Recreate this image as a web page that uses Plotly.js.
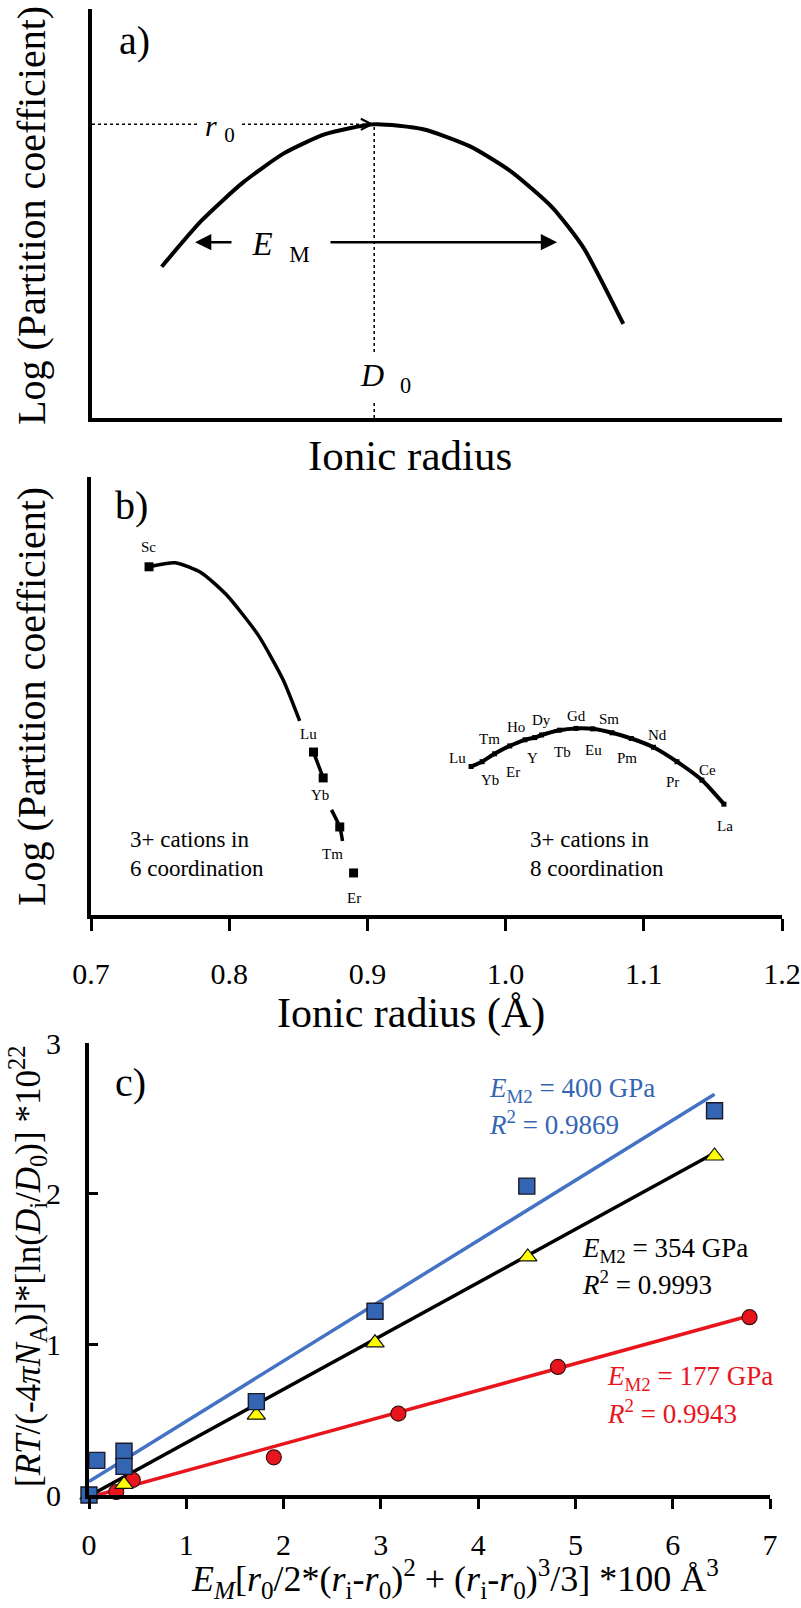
<!DOCTYPE html>
<html><head><meta charset="utf-8">
<script src="https://cdn.plot.ly/plotly-3.0.1.min.js"></script>
<style>html,body{margin:0;padding:0;background:#fff;}#chart{width:801px;height:1608px;}</style>
</head><body><div id="chart"></div>
<script>
// ---------- Panel a: schematic lattice-strain parabola (arbitrary units) ----------
const aCurveX = [1.01, 1.59, 2.19, 2.78, 3.38, 4.09, 4.80, 5.48, 6.07, 6.67, 7.12, 7.70];
const aCurveY = [3.70, 4.83, 5.76, 6.47, 6.94, 7.18, 7.06, 6.64, 6.03, 5.15, 4.17, 2.30];
const aR0 = 4.09;          // peak position (r0)
const aD0 = 7.18;          // peak height (D0)
const aEmX = [1.45, 6.74]; // E_M arrow ends
const aEmY = 4.30;

// ---------- Panel b: ionic radius (Å) vs log D ----------
const b6LineX = [0.742, 0.761, 0.780, 0.798, 0.821, 0.839, 0.851, null, 0.861, 0.868, null, 0.874, 0.880, 0.882];
const b6LineY = [7.95, 8.04, 7.81, 7.31, 6.39, 5.37, 4.43, null, 3.72, 3.13, null, 2.40, 2.01, 1.69];
const b6Names = ['Sc', 'Lu', 'Yb', 'Tm', 'Er'];
const b6X = [0.742, 0.861, 0.868, 0.880, 0.890];
const b6Y = [7.95, 3.72, 3.13, 2.01, 0.96];
const b6LabelDx = [-1, -5, -3, -7, 0];
const b6LabelDy = [20, 18, -17, -27, -25];

const b8Names = ['Lu','Yb','Tm','Er','Ho','Y','Dy','Tb','Gd','Eu','Sm','Pm','Nd','Pr','Ce','La'];
const b8X = [0.975, 0.983, 0.992, 1.003, 1.014, 1.021, 1.026, 1.039, 1.051, 1.063, 1.077, 1.091, 1.107, 1.124, 1.142, 1.158];
const b8Y = [3.39, 3.50, 3.68, 3.86, 4.00, 4.05, 4.11, 4.22, 4.26, 4.25, 4.16, 4.03, 3.83, 3.50, 3.08, 2.53];
const b8LabelDx = [-14, 8, -5, 3, -9, -2, 0, 3, 0, 1, -3, -4, 4, -4, 6, 1];
const b8LabelDy = [9, -18, 15, -26, 13, -20, 15, -22, 12, -21, 14, -20, 12, -20, 10, -22];

// ---------- Panel c ----------
const cBlueX = [0, 0.08, 0.36, 0.36, 1.72, 2.94, 4.50, 6.43];
const cBlueY = [0, 0.23, 0.29, 0.19, 0.62, 1.22, 2.05, 2.55];
const cYellowX = [0, 0.36, 1.72, 2.94, 4.51, 6.43];
const cYellowY = [0, 0.07, 0.53, 1.01, 1.58, 2.25];
const cRedX = [0.28, 0.45, 1.90, 3.18, 4.82, 6.79];
const cRedY = [0.02, 0.10, 0.25, 0.54, 0.85, 1.18];
const cBlueFitX = [0, 6.43],    cBlueFitY = [0.09, 2.66];
const cBlackFitX = [0.02, 6.43], cBlackFitY = [0.0, 2.27];
const cRedFitX = [0.09, 6.79],  cRedFitY = [0.0, 1.19];
const cStatE = ['400', '354', '177'];
const cStatR2 = ['0.9869', '0.9993', '0.9943'];

const W = 801, H = 1608;
const fx = p => p / W;
const fy = p => 1 - p / H;
const FONT = 'Liberation Serif';
const BLUE = '#3465B3', BLUE_LINE = '#4472C4', RED = '#E8151C', YEL = '#FFFF00';

const traces = [
  {x: aCurveX, y: aCurveY, xaxis: 'x', yaxis: 'y', mode: 'lines',
   line: {color: 'black', width: 4, shape: 'spline', smoothing: 0.6}},
  {x: b6LineX, y: b6LineY, xaxis: 'x2', yaxis: 'y2', mode: 'lines',
   line: {color: 'black', width: 3.5, shape: 'spline', smoothing: 0.6}},
  {x: b6X, y: b6Y, xaxis: 'x2', yaxis: 'y2', mode: 'markers',
   marker: {symbol: 'square', size: 9, color: 'black'}},
  {x: b8X, y: b8Y, xaxis: 'x2', yaxis: 'y2', mode: 'lines+markers',
   line: {color: 'black', width: 4, shape: 'spline', smoothing: 0.6},
   marker: {symbol: 'square', size: 5, color: 'black'}},
  {x: cRedFitX, y: cRedFitY, xaxis: 'x3', yaxis: 'y3', mode: 'lines', line: {color: RED, width: 3.5}},
  {x: cBlackFitX, y: cBlackFitY, xaxis: 'x3', yaxis: 'y3', mode: 'lines', line: {color: 'black', width: 3.5}},
  {x: cBlueFitX, y: cBlueFitY, xaxis: 'x3', yaxis: 'y3', mode: 'lines', line: {color: BLUE_LINE, width: 3.5}},
  {x: cRedX, y: cRedY, xaxis: 'x3', yaxis: 'y3', mode: 'markers', cliponaxis: false,
   marker: {symbol: 'circle', size: 15, color: RED, line: {color: '#3a1010', width: 1.2}}},
  {x: cYellowX, y: cYellowY, xaxis: 'x3', yaxis: 'y3', mode: 'markers', cliponaxis: false,
   marker: {symbol: 'triangle-up', size: 16, color: YEL, line: {color: '#111', width: 1.2}}},
  {x: cBlueX, y: cBlueY, xaxis: 'x3', yaxis: 'y3', mode: 'markers', cliponaxis: false,
   marker: {symbol: 'square', size: 16, color: BLUE, line: {color: '#1a1a2a', width: 1.4}}}
];

const noTickAxis = {showline: true, linewidth: 4, linecolor: 'black', showgrid: false, zeroline: false,
  ticks: '', showticklabels: false, fixedrange: true};

const annotations = [];
function pa(text, x, y, size, extra) {
  annotations.push(Object.assign({xref: 'paper', yref: 'paper', x: fx(x), y: fy(y), text: text,
    xanchor: 'center', yanchor: 'middle',
    showarrow: false, font: {family: FONT, size: size, color: 'black'}}, extra || {}));
}

// Panel a texts
pa('a)', 134, 40, 40);
pa('Log (Partition coefficient)', 32, 216, 40, {textangle: -90});
pa('Ionic radius', 410, 456, 43);
annotations.push({xref: 'x', yref: 'y', x: 1.86, y: 7.10, showarrow: false, bgcolor: 'white', borderpad: 6,
  xanchor: 'center', yanchor: 'middle',
  text: '<i>r</i>\u00a0<sub>0</sub>', font: {family: FONT, size: 30, color: 'black'}});
annotations.push({xref: 'x', yref: 'y', x: aEmX[1], y: aEmY, ax: aEmX[0], ay: aEmY, axref: 'x', ayref: 'y',
  showarrow: true, arrowside: 'end+start', arrowhead: 2, startarrowhead: 2, arrowsize: 1.3, startarrowsize: 1.3,
  arrowwidth: 2.5, arrowcolor: 'black'});
annotations.push({xref: 'x', yref: 'y', x: 2.74, y: 4.19, showarrow: false, bgcolor: 'white', borderpad: 4,
  xanchor: 'center', yanchor: 'middle',
  text: '\u00a0\u00a0<i>E</i>\u00a0\u00a0<sub>M</sub>\u00a0\u00a0', font: {family: FONT, size: 33, color: 'black'}});
annotations.push({xref: 'x', yref: 'y', x: 4.25, y: 0.98, showarrow: false, bgcolor: 'white', borderpad: 3,
  xanchor: 'center', yanchor: 'middle',
  text: '<i>D</i>\u00a0\u00a0<sub>0</sub>', font: {family: FONT, size: 32, color: 'black'}});
annotations.push({xref: 'x', yref: 'y', x: aR0, y: aD0, ax: -12, ay: 0, showarrow: true, arrowhead: 5,
  arrowsize: 1.8, arrowwidth: 1.2, arrowcolor: 'black'});
annotations.push({xref: 'x', yref: 'y', x: aR0, y: aD0, ax: 0, ay: 12, showarrow: true, arrowhead: 5,
  arrowsize: 1.8, arrowwidth: 1.2, arrowcolor: 'black'});

// Panel b texts
pa('b)', 131, 505, 40);
pa('Log (Partition coefficient)', 32, 697, 40, {textangle: -90});
pa('Ionic radius (Å)', 411, 1013, 42);
b6Names.forEach((n, i) => annotations.push({xref: 'x2', yref: 'y2', x: b6X[i], y: b6Y[i], text: n,
  xanchor: 'center', yanchor: 'middle',
  xshift: b6LabelDx[i], yshift: b6LabelDy[i], showarrow: false, font: {family: FONT, size: 15, color: 'black'}}));
b8Names.forEach((n, i) => annotations.push({xref: 'x2', yref: 'y2', x: b8X[i], y: b8Y[i], text: n,
  xanchor: 'center', yanchor: 'middle',
  xshift: b8LabelDx[i], yshift: b8LabelDy[i], showarrow: false, font: {family: FONT, size: 15, color: 'black'}}));
pa('3+ cations in', 128, 840, 23, {xanchor: 'left'});
pa('6 coordination', 128, 868, 23, {xanchor: 'left'});
pa('3+ cations in', 528, 840, 23, {xanchor: 'left'});
pa('8 coordination', 528, 868, 23, {xanchor: 'left'});

// Panel c texts
pa('c)', 130, 1082, 40);
pa('[<i>RT</i>/(-4<i>πN</i><sub>A</sub>)]*[ln(<i>D</i><sub>i</sub>/<i>D</i><sub>0</sub>)] *10<sup>22</sup>', 27, 1267, 35, {textangle: -90});
pa('<i>E</i><sub><i>M</i></sub>[<i>r</i><sub>0</sub>/2*(<i>r</i><sub>i</sub>-<i>r</i><sub>0</sub>)<sup>2</sup> + (<i>r</i><sub>i</sub>-<i>r</i><sub>0</sub>)<sup>3</sup>/3] *100 Å<sup>3</sup>', 455, 1579, 36);
const statLeft = [487, 580, 605], statY1 = [1090, 1250, 1378], statY2 = [1123, 1283, 1412];
const statColor = [BLUE, 'black', RED];
cStatE.forEach((e, i) => {
  pa('<i>E</i><sub>M2</sub> = ' + e + ' GPa', statLeft[i], statY1[i], 27, {xanchor: 'left', font: {family: FONT, size: 27, color: statColor[i]}});
  pa('<i>R</i><sup>2</sup> = ' + cStatR2[i], statLeft[i], statY2[i], 27, {xanchor: 'left', font: {family: FONT, size: 27, color: statColor[i]}});
});

const layout = {
  width: W, height: H, margin: {l: 0, r: 0, t: 0, b: 0},
  paper_bgcolor: 'white', plot_bgcolor: 'rgba(0,0,0,0)', showlegend: false,
  font: {family: FONT, color: 'black'},
  xaxis: Object.assign({}, noTickAxis, {domain: [fx(92), fx(782)], range: [0, 10], anchor: 'y'}),
  yaxis: Object.assign({}, noTickAxis, {domain: [fy(418), fy(9)], range: [0, 10], anchor: 'x'}),
  xaxis2: {domain: [fx(91), fx(782)], range: [0.7, 1.2], anchor: 'y2', tick0: 0.7, dtick: 0.1, tickformat: '.1f',
    ticks: 'outside', ticklen: 12, tickwidth: 3, tickcolor: 'black', tickfont: {family: FONT, size: 30, color: 'black'},
    ticklabelstandoff: 17,
    showline: true, linewidth: 4, linecolor: 'black', showgrid: false, zeroline: false, fixedrange: true},
  yaxis2: Object.assign({}, noTickAxis, {domain: [fy(915), fy(477)], range: [0, 10], anchor: 'x2'}),
  xaxis3: {domain: [fx(89), fx(770)], range: [0, 7], anchor: 'y3', tick0: 0, dtick: 1,
    ticks: 'outside', ticklen: 10, tickwidth: 3, tickcolor: 'black', tickfont: {family: FONT, size: 30, color: 'black'},
    ticklabelstandoff: 10,
    showline: true, linewidth: 4, linecolor: 'black', showgrid: false, zeroline: false, fixedrange: true},
  yaxis3: {domain: [fy(1495), fy(1043)], range: [0, 3], anchor: 'x3', tick0: 0, dtick: 1,
    ticks: 'inside', ticklen: 9, tickwidth: 3, tickcolor: 'black', tickfont: {family: FONT, size: 30, color: 'black'},
    ticklabelstandoff: 18,
    showline: true, linewidth: 4, linecolor: 'black', showgrid: false, zeroline: false, fixedrange: true},
  shapes: [
    {type: 'line', xref: 'x', yref: 'y', x0: 0, x1: aR0, y0: aD0, y1: aD0, line: {color: 'black', width: 1.5, dash: 'dot'}},
    {type: 'line', xref: 'x', yref: 'y', x0: aR0, x1: aR0, y0: 0, y1: aD0, line: {color: 'black', width: 1.5, dash: 'dot'}}
  ],
  annotations: annotations
};

Plotly.newPlot('chart', traces, layout, {staticPlot: true, displayModeBar: false});
</script>
</body></html>
